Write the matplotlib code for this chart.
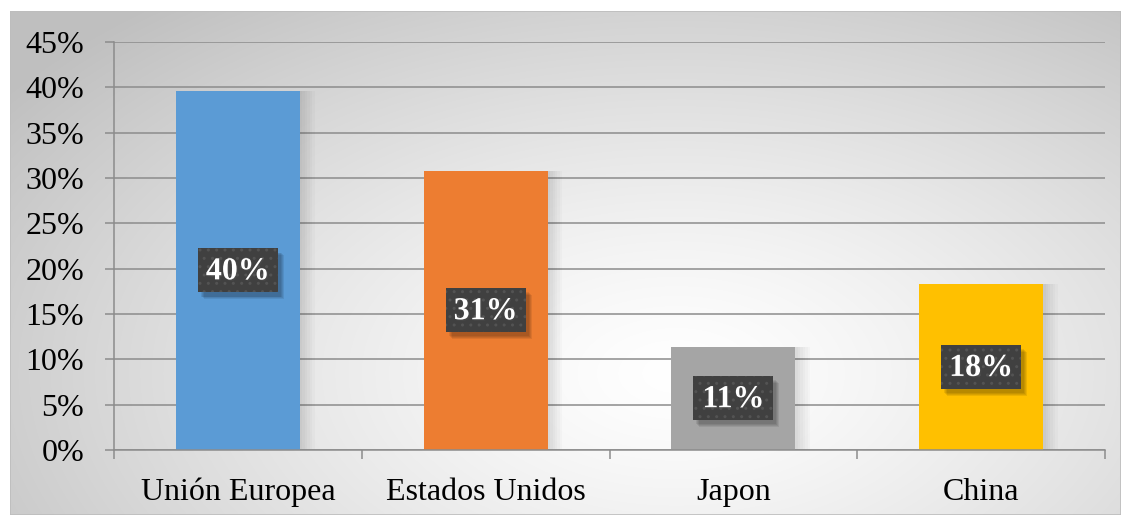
import numpy as np
import matplotlib.pyplot as plt
from matplotlib.patches import Rectangle
import matplotlib.patheffects as pe

categories = ['Unión Europea', 'Estados Unidos', 'Japon', 'China']
values = [39.6, 30.8, 11.4, 18.3]
labels = ['40%', '31%', '11%', '18%']
colors = ['#5B9BD5', '#ED7D31', '#A5A5A5', '#FFC000']
yticks = [0, 5, 10, 15, 20, 25, 30, 35, 40, 45]

W, H = 1121, 515
fig = plt.figure(figsize=(W / 100, H / 100), dpi=100)
plt.rcParams['font.family'] = ['Liberation Serif', 'DejaVu Serif']

# radial gradient background of the chart area
bg = fig.add_axes([10 / W, 0, 1 - 10 / W, 1 - 11 / H])
bg.set_axis_off()
yy, xx = np.mgrid[0:1:300j, 0:1:600j]
r = np.sqrt(((xx - 0.6) / 0.75) ** 2 + ((yy - 0.72) / 0.95) ** 2)
shade = 1.0 - 0.25 * np.clip(r, 0, 1) ** 1.3
bg.imshow(np.dstack([shade] * 3), aspect='auto', extent=[0, 1, 0, 1],
          origin='upper', interpolation='bicubic')
bg.add_patch(Rectangle((0, 0), 1, 1, transform=bg.transAxes, fill=False,
                       edgecolor='#bdbdbd', lw=1.2))

ax = fig.add_axes([114 / W, 1 - 450 / H, (1105 - 114) / W, (450 - 42) / H])
ax.patch.set_alpha(0)
x = np.arange(len(categories))

# soft shadows behind bars
for k in range(6):
    off = 0.004 + k * 0.004
    ax.bar(x + off * 2, values, width=0.5 + off, color='black',
           alpha=0.018, zorder=1.5)

ax.bar(x, values, width=0.5, color=colors, zorder=2)

bw, bh = 0.323, 4.85
for i, (v, lab) in enumerate(zip(values, labels)):
    cy = v / 2
    for k in range(4):
        ax.add_patch(Rectangle((i - bw / 2 + 0.012 + k * 0.004, cy - bh / 2 - 0.45 - k * 0.1),
                               bw, bh, facecolor='black', alpha=0.08,
                               edgecolor='none', zorder=3))
    ax.add_patch(Rectangle((i - bw / 2, cy - bh / 2), bw, bh, facecolor='#404040',
                           edgecolor='#535353', hatch='..', lw=0, zorder=4))
    ax.text(i, cy - 0.15, lab, ha='center', va='center', color='white',
            fontsize=23, fontweight='bold', zorder=5,
            path_effects=[pe.withSimplePatchShadow(offset=(1, -1), alpha=0.5)])

ax.set_xlim(-0.5, len(categories) - 0.5)
ax.set_ylim(0, 45)
ax.set_yticks(yticks)
ax.set_yticklabels([f'{t}%' for t in yticks], fontsize=23)
ax.yaxis.grid(True, color='#8c8c8c', lw=1.1, zorder=0)
ax.set_axisbelow(True)
ax.tick_params(axis='y', length=6.5, color='#8c8c8c', width=1.1, pad=15)

ax.set_xticks(x)
ax.set_xticklabels(categories, fontsize=23)
ax.tick_params(axis='x', length=0, pad=20)
ax.set_xticks(np.arange(len(categories) + 1) - 0.5, minor=True)
ax.tick_params(axis='x', which='minor', length=6.5, color='#8c8c8c', width=1.1)

for s in ['top', 'right']:
    ax.spines[s].set_visible(False)
for s in ['left', 'bottom']:
    ax.spines[s].set_color('#8c8c8c')
    ax.spines[s].set_linewidth(1.1)

fig.savefig('out.png', dpi=100)
